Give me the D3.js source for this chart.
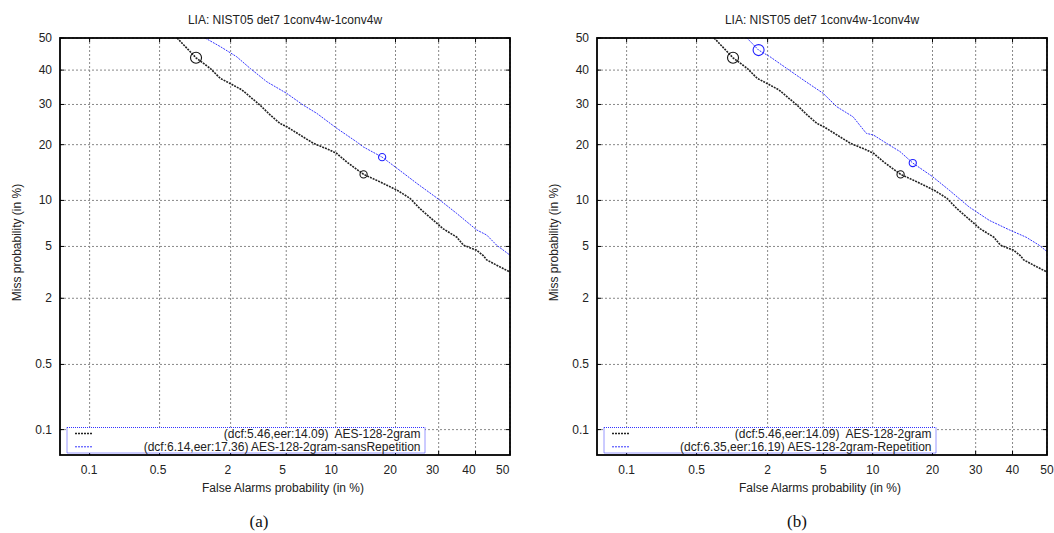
<!DOCTYPE html>
<html>
<head>
<meta charset="utf-8">
<script src="https://cdn.jsdelivr.net/npm/d3@7"></script>
<style>
  body { margin: 0; background: #fff; }
  text { font-family: "Liberation Sans", Arial, sans-serif; font-size: 12px; fill: #222; }
  .caption { font-family: "Liberation Serif", "Times New Roman", serif; font-size: 17px; fill: #111; }
</style>
</head>
<body>
<svg width="1054" height="533"></svg>
<script>
const svg = d3.select('svg');

// tick labels (percent) for both axes
const faTicks = [0.1, 0.5, 2, 5, 10, 20, 30, 40, 50];
const missTicks = [0.1, 0.5, 2, 5, 10, 20, 30, 40, 50];

// AES-128-2gram (same curve in both panels): false alarm %, miss %
const baseFa   = [0.72, 1.05, 1.38, 1.66, 1.98, 2.44, 2.81, 3.31, 3.89, 4.55, 5.04, 6.14, 7.42, 9.3, 10.15, 11.5, 14.09, 17.0, 20.3, 23.1, 25.4, 28.7, 31.2, 34.8, 36.6, 40.3, 42.2, 43.2, 46.1, 50];
const baseMiss = [50, 43.8, 40.5, 37.5, 36.0, 34.1, 32.1, 29.8, 27.2, 25.0, 24.2, 22.2, 20.3, 18.8, 18.1, 16.4, 14.09, 12.8, 11.5, 10.3, 8.9, 7.5, 6.6, 5.8, 5.1, 4.7, 4.3, 4.0, 3.65, 3.24];

// AES-128-2gram-sansRepetition (panel a)
const sansFa   = [1.25, 1.66, 2.23, 2.81, 3.69, 5.04, 6.44, 7.78, 10.15, 13.0, 14.05, 17.36, 20.3, 24.7, 30.4, 34.8, 40.3, 43.2, 46.1, 50];
const sansMiss = [50, 47.3, 44.1, 40.5, 36.5, 33.1, 29.8, 27.6, 23.8, 20.6, 19.5, 17.36, 15.2, 12.55, 10.0, 8.3, 6.5, 6.0, 5.1, 4.33];

// AES-128-2gram-Repetition (panel b)
const repFa   = [1.37, 1.70, 2.09, 2.79, 3.67, 5.0, 6.1, 7.7, 9.2, 10.1, 11.9, 14.0, 16.19, 20.0, 23.6, 28.4, 33.6, 39.1, 43.9, 47.7, 50];
const repMiss = [50, 46.2, 44.1, 40.5, 37.0, 33.1, 29.4, 26.7, 22.6, 22.2, 20.3, 18.5, 16.19, 13.7, 11.5, 9.1, 7.5, 6.5, 5.8, 5.1, 4.6];

// operating points: [fa, miss, kind]
const baseMarks = [[1.05, 43.8, 'dcf'], [14.09, 14.09, 'eer']];
const sansMarks = [[17.36, 17.36, 'eer']];
const repMarks  = [[1.70, 46.2, 'dcf'], [16.19, 16.19, 'eer']];

const legendA = ['(dcf:5.46,eer:14.09)  AES-128-2gram', '(dcf:6.14,eer:17.36) AES-128-2gram-sansRepetition'];
const legendB = ['(dcf:5.46,eer:14.09)  AES-128-2gram', '(dcf:6.35,eer:16.19) AES-128-2gram-Repetition'];

const title = 'LIA: NIST05 det7 1conv4w-1conv4w';

// inverse normal cdf (Acklam)
function probit(p) {
  const a = [-3.969683028665376e+01, 2.209460984245205e+02, -2.759285104469687e+02, 1.383577518672690e+02, -3.066479806614716e+01, 2.506628277459239e+00];
  const b = [-5.447609879822406e+01, 1.615858368580409e+02, -1.556989798598866e+02, 6.680131188771972e+01, -1.328068155288572e+01];
  const c = [-7.784894002430293e-03, -3.223964580411365e-01, -2.400758277161838e+00, -2.549732539343734e+00, 4.374664141464968e+00, 2.938163982698783e+00];
  const d = [7.784695709041462e-03, 3.224671290700398e-01, 2.445134137142996e+00, 3.754408661907416e+00];
  const plow = 0.02425;
  let q, r;
  if (p < plow) {
    q = Math.sqrt(-2 * Math.log(p));
    return (((((c[0]*q+c[1])*q+c[2])*q+c[3])*q+c[4])*q+c[5]) / ((((d[0]*q+d[1])*q+d[2])*q+d[3])*q+1);
  }
  if (p <= 1 - plow) {
    q = p - 0.5; r = q * q;
    return (((((a[0]*r+a[1])*r+a[2])*r+a[3])*r+a[4])*r+a[5])*q / (((((b[0]*r+b[1])*r+b[2])*r+b[3])*r+b[4])*r+1);
  }
  q = Math.sqrt(-2 * Math.log(1 - p));
  return -(((((c[0]*q+c[1])*q+c[2])*q+c[3])*q+c[4])*q+c[5]) / ((((d[0]*q+d[1])*q+d[2])*q+d[3])*q+1);
}

const zip = (xs, ys) => xs.map((x, i) => [x, ys[i]]);

const plotW = 450;
const plotH = 417;

const drawPanel = (left, curves, legendText, legendW, caption, captionX, labelSqueeze) => {
  const g = svg.append('g').attr('transform', `translate(${left},38)`);

  const xs = d3.scaleLinear().domain([probit(0.00047), 0]).range([0, plotW]);
  const ys = d3.scaleLinear().domain([0, probit(0.0005)]).range([0, plotH]);
  const px = p => xs(probit(p / 100));
  const py = p => ys(probit(p / 100));

  // grid
  g.selectAll('.vgrid').data(faTicks).enter().append('line')
    .attr('x1', px).attr('x2', px).attr('y1', 0).attr('y2', plotH)
    .attr('stroke', '#888').attr('stroke-dasharray', '2,2');
  g.selectAll('.hgrid').data(missTicks).enter().append('line')
    .attr('y1', py).attr('y2', py).attr('x1', 0).attr('x2', plotW)
    .attr('stroke', '#888').attr('stroke-dasharray', '2,2');

  // small inner ticks
  const tl = 4;
  faTicks.forEach(t => {
    g.append('line').attr('x1', px(t)).attr('x2', px(t)).attr('y1', plotH).attr('y2', plotH - tl).attr('stroke', '#000');
    g.append('line').attr('x1', px(t)).attr('x2', px(t)).attr('y1', 0).attr('y2', tl).attr('stroke', '#000');
  });
  missTicks.forEach(t => {
    g.append('line').attr('y1', py(t)).attr('y2', py(t)).attr('x1', 0).attr('x2', tl).attr('stroke', '#000');
    g.append('line').attr('y1', py(t)).attr('y2', py(t)).attr('x1', plotW).attr('x2', plotW - tl).attr('stroke', '#000');
  });

  // tick labels
  g.selectAll('.xl').data(faTicks).enter().append('text')
    .attr('x', d => px(d) * labelSqueeze).attr('y', plotH + 19).attr('text-anchor', 'middle')
    .text(d => d);
  g.selectAll('.yl').data(missTicks).enter().append('text')
    .attr('x', -8).attr('y', d => py(d) + 4).attr('text-anchor', 'end')
    .text(d => d);

  // curves
  const line = d3.line().x(d => px(d[0])).y(d => py(d[1]));
  const clip = 'clip' + left;
  g.append('clipPath').attr('id', clip).append('rect').attr('width', plotW).attr('height', plotH);
  curves.forEach(c => {
    g.append('path').datum(c.data)
      .attr('clip-path', `url(#${clip})`)
      .attr('d', line)
      .attr('fill', 'none')
      .attr('stroke', c.color)
      .attr('stroke-width', c.width)
      .attr('stroke-dasharray', c.dash);
    g.selectAll(null).data(c.marks).enter().append('circle')
      .attr('cx', d => px(d[0])).attr('cy', d => py(d[1]))
      .attr('r', d => d[2] === 'dcf' ? 5.5 : 3.6)
      .attr('fill', 'none').attr('stroke', c.mark).attr('stroke-width', 1.1);
  });

  // frame
  g.append('rect').attr('width', plotW).attr('height', plotH)
    .attr('fill', 'none').attr('stroke', '#000').attr('stroke-width', 1.8);

  // legend
  const lg = g.append('g').attr('transform', `translate(7,${plotH - 27.5})`);
  lg.append('rect').attr('width', legendW).attr('height', 25.5)
    .attr('fill', '#fff').attr('stroke', '#3333ff').attr('stroke-dasharray', '1,1');
  curves.forEach((c, i) => {
    lg.append('line').attr('x1', 8).attr('x2', 26).attr('y1', 6 + i * 13.3).attr('y2', 6 + i * 13.3)
      .attr('stroke', c.color).attr('stroke-width', c.width).attr('stroke-dasharray', c.dash);
    lg.append('text').attr('x', legendW - 4.5).attr('y', 10 + i * 13.3)
      .attr('text-anchor', 'end').style('white-space', 'pre')
      .text(legendText[i]);
  });

  // titles
  g.append('text').attr('x', plotW / 2).attr('y', -14).attr('text-anchor', 'middle').text(title);
  g.append('text').attr('x', plotW / 2 - 2).attr('y', plotH + 37).attr('text-anchor', 'middle')
    .text('False Alarms probability (in %)');
  g.append('text').attr('transform', `translate(-39,${plotH / 2 - 4}) rotate(-90)`)
    .attr('text-anchor', 'middle').text('Miss probability (in %)');

  svg.append('text').attr('class', 'caption').attr('x', captionX).attr('y', 527)
    .attr('text-anchor', 'middle').text(caption);
};

drawPanel(60, [
  { data: zip(baseFa, baseMiss), color: '#222', width: 1.6, dash: '2,1', mark: '#111', marks: baseMarks },
  { data: zip(sansFa, sansMiss), color: '#3535ff', width: 1, dash: '2,1', mark: '#2020ff', marks: sansMarks }
], legendA, 358, '(a)', 259, 0.984);

drawPanel(597, [
  { data: zip(baseFa, baseMiss), color: '#222', width: 1.6, dash: '2,1', mark: '#111', marks: baseMarks },
  { data: zip(repFa, repMiss), color: '#3535ff', width: 1, dash: '2,1', mark: '#2020ff', marks: repMarks }
], legendB, 332, '(b)', 797, 1);
</script>
</body>
</html>
